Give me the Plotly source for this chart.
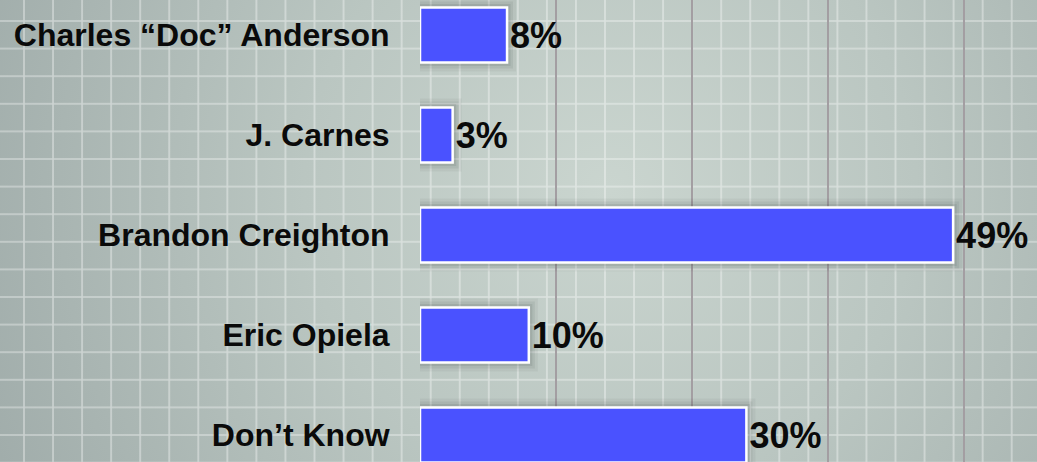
import base64
import plotly.graph_objects as go

categories = ["Charles “Doc” Anderson", "J. Carnes", "Brandon Creighton", "Eric Opiela", "Don’t Know"]
values = [8, 3, 49, 10, 30]
value_labels = ["8%", "3%", "49%", "10%", "30%"]

W, H = 1037, 462
L = 420
PW = W - L

svg = f'''<svg xmlns="http://www.w3.org/2000/svg" width="{W}" height="{H}" viewBox="0 0 {W} {H}">
<defs>
<radialGradient id="g" gradientUnits="userSpaceOnUse" cx="610" cy="190" r="680">
<stop offset="0" stop-color="#cad5cf"/>
<stop offset="0.45" stop-color="#bac6c1"/>
<stop offset="1" stop-color="#a0acaa"/>
</radialGradient>
<pattern id="p" patternUnits="userSpaceOnUse" x="{24-14.525}" y="{21-13.8}" width="29.05" height="27.6">
<path d="M14.525 0 V27.6 M0 13.8 H29.05" stroke="#ffffff" stroke-opacity="0.42" stroke-width="1.6" fill="none"/>
</pattern>
</defs>
<rect width="{W}" height="{H}" fill="url(#g)"/>
<rect width="{W}" height="{H}" fill="url(#p)"/>
</svg>'''
src = "data:image/svg+xml;base64," + base64.b64encode(svg.encode("utf-8")).decode("ascii")

fig = go.Figure()

bw = 0.55
for lw, a in [(18, 0.05), (12, 0.07), (7, 0.09)]:
    fig.add_trace(go.Bar(
        y=categories, x=values, orientation="h", width=bw,
        marker=dict(color="rgba(0,0,0,0)", line=dict(color=f"rgba(30,40,40,{a})", width=lw)),
        hoverinfo="skip", showlegend=False,
    ))

fig.add_trace(go.Bar(
    y=categories, x=values, orientation="h", width=bw,
    marker=dict(color="#4a52ff", line=dict(color="#ffffff", width=2.5)),
    text=value_labels, textposition="outside", constraintext="none", cliponaxis=False,
    textfont=dict(family="Liberation Sans, Arial, sans-serif", size=36, color="#0a0a0a", weight="bold"),
    hoverinfo="skip", showlegend=False,
))

fig.update_layout(
    width=W, height=H,
    margin=dict(l=L, r=0, t=0, b=0),
    barmode="overlay",
    paper_bgcolor="rgba(0,0,0,0)",
    plot_bgcolor="rgba(0,0,0,0)",
    showlegend=False,
    images=[dict(
        source=src, xref="paper", yref="paper",
        x=-L / PW, y=1, sizex=W / PW, sizey=1,
        xanchor="left", yanchor="top", sizing="stretch", layer="below",
    )],
    xaxis=dict(
        range=[0, PW / 10.88], tick0=0, dtick=12.5,
        showgrid=True, gridcolor="#a39ea2", gridwidth=1.6,
        zeroline=False, showticklabels=False, showline=False, fixedrange=True,
    ),
    yaxis=dict(
        type="category", categoryorder="array", categoryarray=categories,
        range=[4.27, -0.35],
        showgrid=False, zeroline=False, showline=False,
        ticks="outside", ticklen=23, tickcolor="rgba(0,0,0,0)",
        tickfont=dict(family="Liberation Sans, Arial, sans-serif", size=32, color="#0a0a0a", weight="bold"),
        fixedrange=True,
    ),
)

fig.write_html(
    "out.html",
    config={"displayModeBar": False, "staticPlot": True},
    post_script="document.body.style.margin='0';document.body.style.overflow='hidden';",
)
